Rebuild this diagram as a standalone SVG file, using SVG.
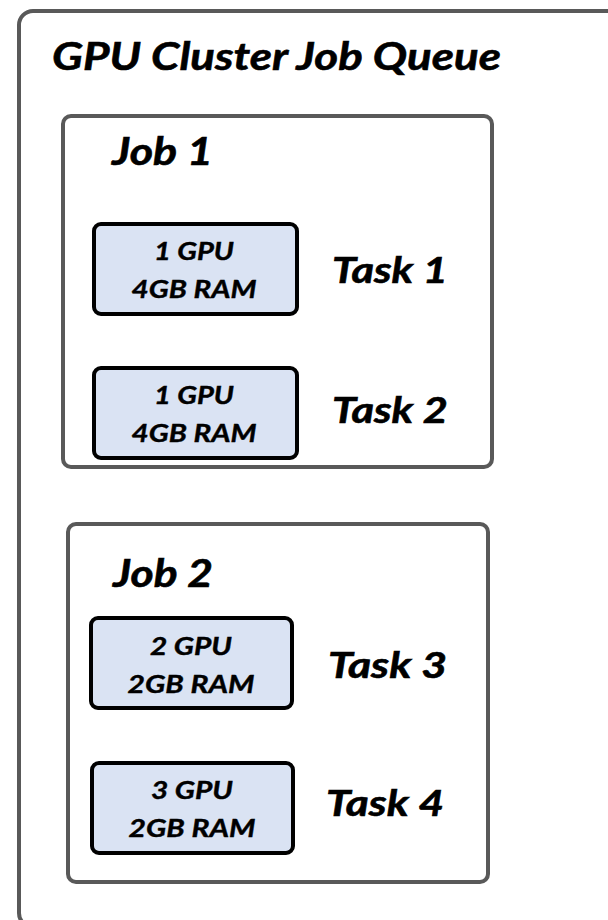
<svg xmlns="http://www.w3.org/2000/svg" width="608" height="920" viewBox="0 0 608 920">
  <style>
    text { font-family: "Lato", "Open Sans", "Liberation Sans", sans-serif; font-weight: 700; font-style: italic; fill: #000; stroke: #000; stroke-width: 0.6px; }
    .frame { fill: #fff; stroke: #595959; stroke-width: 4; }
    .task { fill: #dae3f3; stroke: #000; stroke-width: 4; }
    .title { font-size: 39px; }
    .job { font-size: 39px; }
    .name { font-size: 37px; }
    .spec { font-size: 24px; text-anchor: middle; stroke-width: 0.4px; }
  </style>
  <rect width="608" height="920" fill="#fff"/>

  <!-- queue container -->
  <g id="queue">
    <rect class="frame" x="19" y="11" width="620" height="916" rx="14"/>
    <text class="title" x="52" y="70" textLength="449" lengthAdjust="spacingAndGlyphs">GPU Cluster Job Queue</text>
  </g>

  <!-- job 1 -->
  <g id="job1">
    <rect class="frame" x="63" y="116" width="429" height="351" rx="8"/>
    <text class="job" x="112" y="165" textLength="101" lengthAdjust="spacingAndGlyphs">Job 1</text>
  </g>
  <g id="task1">
    <rect class="task" x="94" y="224" width="203" height="90" rx="7"/>
    <text class="spec" x="194" y="260" textLength="80" lengthAdjust="spacingAndGlyphs">1 GPU</text>
    <text class="spec" x="194" y="298" textLength="125" lengthAdjust="spacingAndGlyphs">4GB RAM</text>
    <text class="name" x="332" y="283" textLength="116" lengthAdjust="spacingAndGlyphs">Task 1</text>
  </g>
  <g id="task2">
    <rect class="task" x="94" y="368" width="203" height="90" rx="7"/>
    <text class="spec" x="194" y="404" textLength="80" lengthAdjust="spacingAndGlyphs">1 GPU</text>
    <text class="spec" x="194" y="442" textLength="125" lengthAdjust="spacingAndGlyphs">4GB RAM</text>
    <text class="name" x="332" y="423" textLength="116" lengthAdjust="spacingAndGlyphs">Task 2</text>
  </g>

  <!-- job 2 -->
  <g id="job2">
    <rect class="frame" x="68" y="524" width="420" height="358" rx="8"/>
    <text class="job" x="113" y="587" textLength="100" lengthAdjust="spacingAndGlyphs">Job 2</text>
  </g>
  <g id="task3">
    <rect class="task" x="91" y="618" width="201" height="90" rx="7"/>
    <text class="spec" x="191" y="655" textLength="82" lengthAdjust="spacingAndGlyphs">2 GPU</text>
    <text class="spec" x="191" y="693" textLength="127" lengthAdjust="spacingAndGlyphs">2GB RAM</text>
    <text class="name" x="328" y="678" textLength="119" lengthAdjust="spacingAndGlyphs">Task 3</text>
  </g>
  <g id="task4">
    <rect class="task" x="92" y="763" width="201" height="90" rx="7"/>
    <text class="spec" x="192" y="799" textLength="82" lengthAdjust="spacingAndGlyphs">3 GPU</text>
    <text class="spec" x="192" y="837" textLength="127" lengthAdjust="spacingAndGlyphs">2GB RAM</text>
    <text class="name" x="326" y="816" textLength="118" lengthAdjust="spacingAndGlyphs">Task 4</text>
  </g>

  <!-- no connectors in this diagram -->
  <g id="connectors"/>
</svg>
